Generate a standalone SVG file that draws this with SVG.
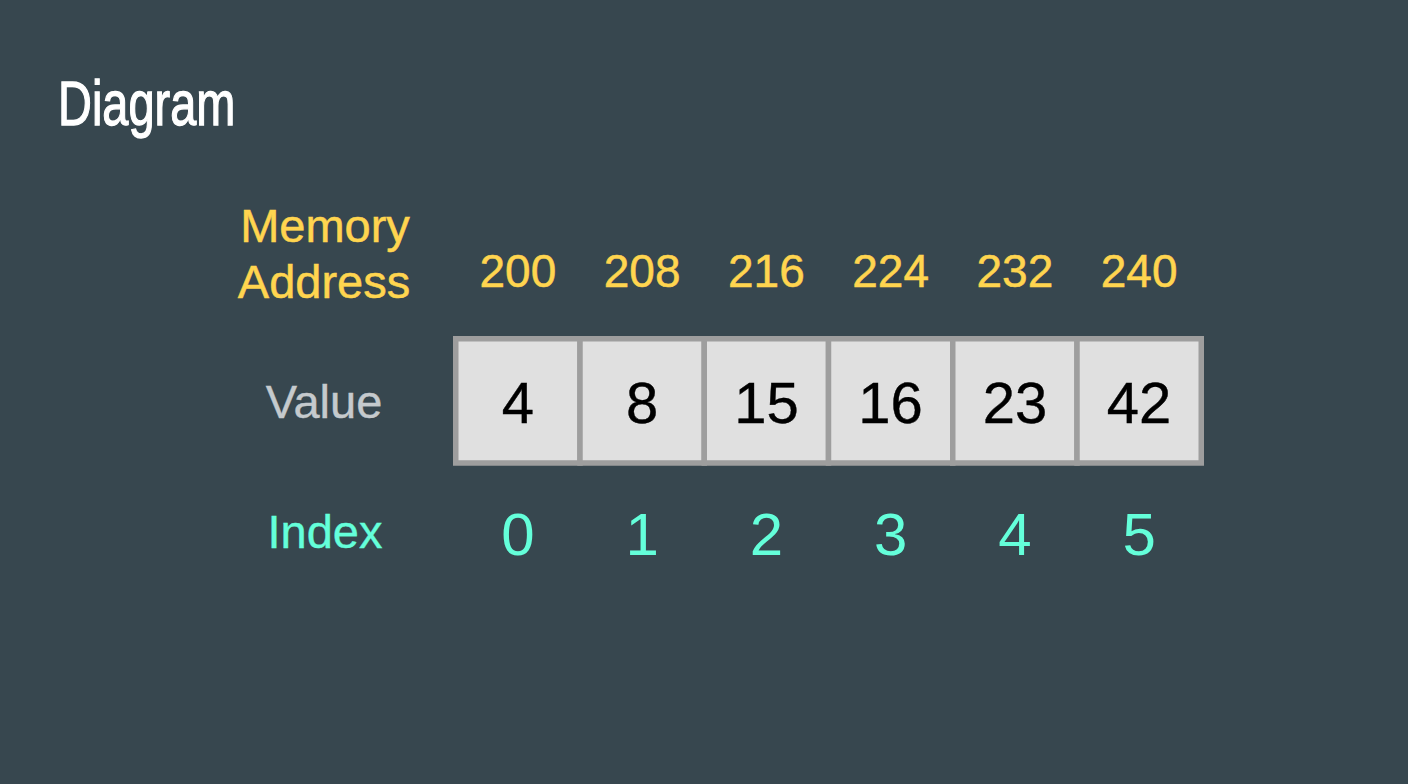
<svg xmlns="http://www.w3.org/2000/svg" width="1408" height="784" viewBox="0 0 1408 784">
  <style>
    .lbl { font-family: "Liberation Sans", Arial, sans-serif; text-anchor: middle; }
    .addr { fill: #ffd54f; font-size: 46px; stroke: #ffd54f; stroke-width: 0.5; }
    .val { fill: #000000; font-size: 58px; stroke: #000000; stroke-width: 0.4; }
    .idx { fill: #64ffda; font-size: 60px; }
    .cell { fill: #e0e0e0; stroke: #9e9e9e; stroke-width: 5.5; }
  </style>
  <rect x="0" y="0" width="1408" height="784" fill="#37474f"/>
  <g id="title">
    <text transform="translate(58,125) scale(0.745,1)" font-family="'Liberation Sans', Arial, sans-serif" font-size="63" fill="#ffffff" stroke="#ffffff" stroke-width="1.3">Diagram</text>
  </g>
  <g id="row-labels" class="lbl">
    <text x="325" y="242" class="addr" font-size="47" style="font-size:47px">Memory</text>
    <text x="324" y="298" class="addr" style="font-size:47px">Address</text>
    <text x="324" y="418" font-size="47" fill="#c5cacd" stroke="#c5cacd" stroke-width="0.4">Value</text>
    <text x="325" y="548" font-size="47" fill="#64ffda" stroke="#64ffda" stroke-width="0.4">Index</text>
  </g>
  <g id="addresses" class="lbl addr">
    <text x="517.9" y="287">200</text>
    <text x="642.1" y="287">208</text>
    <text x="766.4" y="287">216</text>
    <text x="890.6" y="287">224</text>
    <text x="1014.9" y="287">232</text>
    <text x="1139.1" y="287">240</text>
  </g>
  <g id="cells">
    <g id="cell0"><rect class="cell" x="455.75" y="338.75" width="124.25" height="124.25"/><text class="lbl val" x="517.9" y="423">4</text></g>
    <g id="cell1"><rect class="cell" x="580" y="338.75" width="124.25" height="124.25"/><text class="lbl val" x="642.1" y="423">8</text></g>
    <g id="cell2"><rect class="cell" x="704.25" y="338.75" width="124.25" height="124.25"/><text class="lbl val" x="766.4" y="423">15</text></g>
    <g id="cell3"><rect class="cell" x="828.5" y="338.75" width="124.25" height="124.25"/><text class="lbl val" x="890.6" y="423">16</text></g>
    <g id="cell4"><rect class="cell" x="952.75" y="338.75" width="124.25" height="124.25"/><text class="lbl val" x="1014.9" y="423">23</text></g>
    <g id="cell5"><rect class="cell" x="1077" y="338.75" width="124.25" height="124.25"/><text class="lbl val" x="1139.1" y="423">42</text></g>
  </g>
  <g id="indices" class="lbl idx">
    <text x="517.9" y="555">0</text>
    <text x="642.1" y="555">1</text>
    <text x="766.4" y="555">2</text>
    <text x="890.6" y="555">3</text>
    <text x="1014.9" y="555">4</text>
    <text x="1139.1" y="555">5</text>
  </g>
  <g id="connectors"></g>
</svg>
